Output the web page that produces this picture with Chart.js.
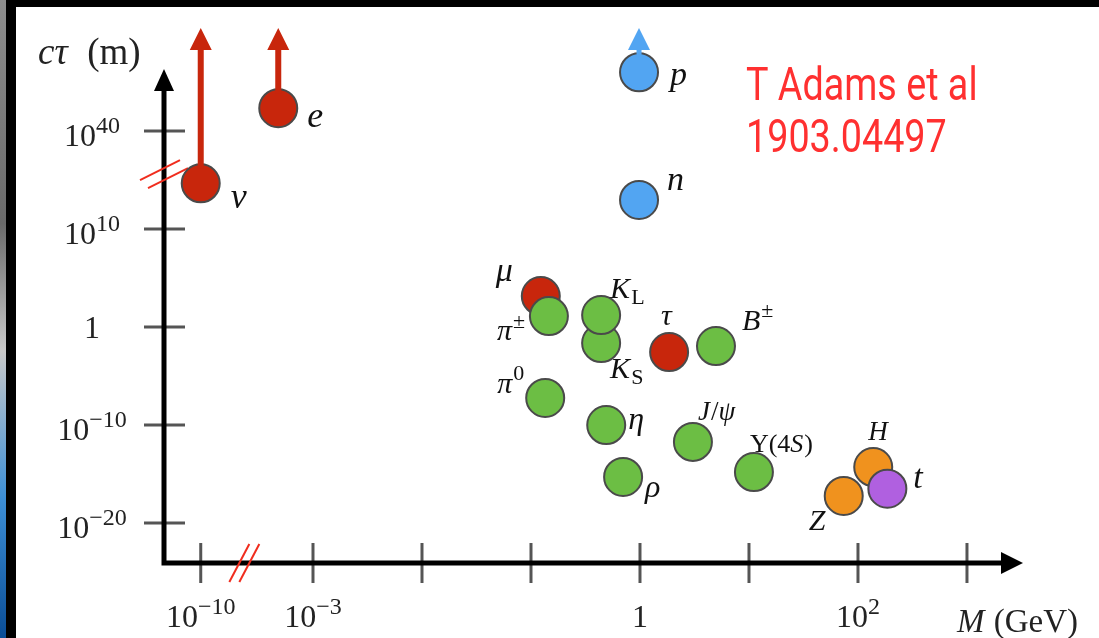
<!DOCTYPE html>
<html>
<head>
<meta charset="utf-8">
<script src="https://cdn.jsdelivr.net/npm/chart.js@4.4.1/dist/chart.umd.min.js"></script>
<style>
  html, body { margin: 0; padding: 0; background: #000; overflow: hidden; }
  #strip { position: absolute; left: 0; top: 0; width: 6px; height: 638px;
    background: linear-gradient(#8d8d8d, #6a6a6a 35%, #c9c9c9 55%, #3d8fd6 78%, #0a4d96); }
  #panel { position: absolute; left: 16px; top: 7px; width: 1083px; height: 631px; background: #fff; }
  #wrap { position: absolute; left: 0; top: 0; width: 1099px; height: 638px; }
</style>
</head>
<body>
<div id="strip"></div>
<div id="panel"></div>
<div id="wrap"><canvas id="canvas" width="1099" height="638"></canvas></div>
<script>
// particles: mass in GeV, c*tau in metres
const names   = ['ν', 'e', 'μ', 'τ', 'p', 'n', 'π±', 'K_S', 'K_L', 'B±', 'π0', 'η', 'J/ψ', 'ρ', 'Υ(4S)', 'Z', 'H', 't'];
const massGeV = [1e-10, 4.8e-4, 0.123, 1.85, 0.98, 0.98, 0.146, 0.44, 0.44, 4.98, 0.135, 0.49, 3.06, 0.70, 11.1, 74, 138, 186];
const ctauM   = [1e24, 1e47, 1.45e3, 2.8e-3, 1e58, 8e18, 13, 2.3e-2, 16.6, 1.15e-2, 5.8e-8, 1e-10, 1.9e-12, 5e-16, 1.6e-15, 5.8e-18, 5.1e-15, 3.2e-17];
const kind    = ['lepton', 'lepton', 'lepton', 'lepton', 'baryon', 'baryon', 'meson', 'meson', 'meson', 'meson', 'meson', 'meson', 'meson', 'meson', 'meson', 'boson', 'boson', 'top'];
const lowerLimit = ['ν', 'e', 'p'];

// axis ticks (powers of ten)
const xTickExp = [-10, -3, -2, -1, 0, 1, 2, 3];
const xTickLabelExp = [-10, -3, 0, 2];
const yTickExp = [-20, -10, 0, 10, 40];

const kindColor = {
    lepton: 'rgb(200, 38, 12)',
    baryon: 'rgb(82, 165, 242)',
    meson: 'rgb(108, 190, 68)',
    boson: 'rgb(240, 146, 30)',
    top: 'rgb(176, 96, 224)'
};

// label markup and placement (dx, dy to left/baseline, font size)
const labelMarkup = {
    'ν': [['ν', 'i']], 'e': [['e', 'i']], 'μ': [['μ', 'i']], 'τ': [['τ', 'i']],
    'p': [['p', 'i']], 'n': [['n', 'i']],
    'π±': [['π', 'i'], ['±', 'sup']],
    'K_S': [['K', 'i'], ['S', 'sub']],
    'K_L': [['K', 'i'], ['L', 'sub']],
    'B±': [['B', 'i'], ['±', 'sup']],
    'π0': [['π', 'i'], ['0', 'sup']],
    'η': [['η', 'i']],
    'J/ψ': [['J', 'i'], ['/', 'r'], ['ψ', 'i']],
    'ρ': [['ρ', 'i']],
    'Υ(4S)': [['Υ(4', 'r'], ['S', 'i'], [')', 'r']],
    'Z': [['Z', 'i']], 'H': [['H', 'i']], 't': [['t', 'i']]
};
const labelPlace = {
    'ν': [30, 25, 36], 'e': [29, 19, 36], 'μ': [-45, -15, 34], 'τ': [-8, -27, 30],
    'p': [31, 13, 34], 'n': [28, -10, 34],
    'π±': [-52, 24, 30], 'K_S': [9, 35, 30], 'K_L': [9, -17, 30], 'B±': [26, -16, 30],
    'π0': [-48, -5, 30], 'η': [22, 4, 32], 'J/ψ': [5, -22, 27], 'ρ': [22, 20, 32],
    'Υ(4S)': [-4, -20, 26], 'Z': [-35, 34, 30], 'H': [-5, -27, 27], 't': [26, -1, 34]
};

// broken axes: compress the far ends beyond the break marks
const X_BREAK = -3.63, Y_BREAK = 15.1;
function xs(m) {
    const L = Math.log10(m);
    return L >= X_BREAK ? L : X_BREAK + (L - X_BREAK) * (0.40 / (X_BREAK + 10));
}
function ys(c) {
    const L = Math.log10(c);
    return L <= 10 ? L : 10 + (L - 10) / 3;
}

const SERIF = '"Liberation Serif", "DejaVu Serif", serif';

function partFont(style, size) {
    if (style === 'i') return `italic ${size}px ${SERIF}`;
    if (style === 'sup' || style === 'sub') return `${Math.round(size * 0.74)}px ${SERIF}`;
    return `${size}px ${SERIF}`;
}
function richWidth(ctx, parts, size) {
    let w = 0;
    parts.forEach(p => { ctx.font = partFont(p[1], size); w += ctx.measureText(p[0]).width; });
    return w;
}
function drawRich(ctx, parts, x, y, size, align) {
    let w = richWidth(ctx, parts, size);
    let cx = align === 'center' ? x - w / 2 : align === 'right' ? x - w : x;
    ctx.textAlign = 'left';
    ctx.textBaseline = 'alphabetic';
    parts.forEach(p => {
        ctx.font = partFont(p[1], size);
        let dy = p[1] === 'sup' ? -size * 0.42 : p[1] === 'sub' ? size * 0.2 : 0;
        ctx.fillText(p[0], cx, y + dy);
        cx += ctx.measureText(p[0]).width + (p[1] === 'i' ? 1 : 0);
    });
}
function powLabel(e) {
    if (e === 0) return [['1', 'r']];
    return [['10', 'r'], [(e < 0 ? '−' : '') + Math.abs(e), 'sup']];
}

function arrowUp(ctx, x, y0, yTip, color, shaft) {
    ctx.fillStyle = color;
    ctx.fillRect(x - shaft / 2, yTip + 20, shaft, y0 - yTip - 20);
    ctx.beginPath();
    ctx.moveTo(x, yTip);
    ctx.lineTo(x - 11, yTip + 22);
    ctx.lineTo(x + 11, yTip + 22);
    ctx.closePath();
    ctx.fill();
}

const decor = {
    id: 'decor',
    beforeDatasetsDraw(chart) {
        const ctx = chart.ctx, xa = chart.scales.x, ya = chart.scales.y;
        const x0 = xa.getPixelForValue(xa.min), y0 = ya.getPixelForValue(ya.min);
        const xEnd = xa.getPixelForValue(xa.max), yEnd = ya.getPixelForValue(ya.max);
        ctx.save();
        // ticks
        ctx.strokeStyle = '#555';
        ctx.lineWidth = 3;
        yTickExp.forEach(e => {
            const py = ya.getPixelForValue(ys(Math.pow(10, e)));
            ctx.beginPath(); ctx.moveTo(x0 - 20, py); ctx.lineTo(x0 + 21, py); ctx.stroke();
        });
        xTickExp.forEach(e => {
            const px = xa.getPixelForValue(xs(Math.pow(10, e)));
            ctx.beginPath(); ctx.moveTo(px, y0 - 20); ctx.lineTo(px, y0 + 20); ctx.stroke();
        });
        // axes with arrow heads
        ctx.strokeStyle = '#000';
        ctx.fillStyle = '#000';
        ctx.lineWidth = 5;
        ctx.beginPath();
        ctx.moveTo(x0, yEnd + 18);
        ctx.lineTo(x0, y0);
        ctx.lineTo(xEnd - 18, y0);
        ctx.stroke();
        ctx.beginPath();
        ctx.moveTo(x0, yEnd); ctx.lineTo(x0 - 10, yEnd + 22); ctx.lineTo(x0 + 10, yEnd + 22); ctx.closePath(); ctx.fill();
        ctx.beginPath();
        ctx.moveTo(xEnd, y0); ctx.lineTo(xEnd - 22, y0 - 11); ctx.lineTo(xEnd - 22, y0 + 11); ctx.closePath(); ctx.fill();
        // axis breaks
        ctx.strokeStyle = 'rgb(240, 45, 30)';
        ctx.lineWidth = 2;
        const bx = xa.getPixelForValue(X_BREAK), by = ya.getPixelForValue(Y_BREAK);
        [-5, 5].forEach(d => {
            ctx.beginPath(); ctx.moveTo(bx + d - 10, y0 + 19); ctx.lineTo(bx + d + 10, y0 - 19); ctx.stroke();
            ctx.beginPath(); ctx.moveTo(x0 - 20 + d * 0.8, by + 5 + d * 0.8); ctx.lineTo(x0 + 20 + d * 0.8, by - 15 + d * 0.8); ctx.stroke();
        });
        ctx.restore();
    },
    afterDatasetsDraw(chart) {
        const ctx = chart.ctx, xa = chart.scales.x, ya = chart.scales.y;
        const y0 = ya.getPixelForValue(ya.min);
        ctx.save();
        // lower limits
        names.forEach((nm, i) => {
            if (!lowerLimit.includes(nm)) return;
            const px = xa.getPixelForValue(xs(massGeV[i])), py = ya.getPixelForValue(ys(ctauM[i]));
            arrowUp(ctx, px, py - 15, 28, kindColor[kind[i]], kind[i] === 'baryon' ? 5 : 6);
        });
        // particle labels
        ctx.fillStyle = '#111';
        names.forEach((nm, i) => {
            const px = xa.getPixelForValue(xs(massGeV[i])), py = ya.getPixelForValue(ys(ctauM[i]));
            const pl = labelPlace[nm];
            drawRich(ctx, labelMarkup[nm], px + pl[0], py + pl[1], pl[2], 'left');
        });
        // tick labels
        ctx.fillStyle = '#222';
        yTickExp.forEach(e => {
            const py = ya.getPixelForValue(ys(Math.pow(10, e)));
            drawRich(ctx, powLabel(e), 92, py + (e === 0 ? 11 : 15), 32, 'center');
        });
        xTickLabelExp.forEach(e => {
            const px = xa.getPixelForValue(xs(Math.pow(10, e)));
            drawRich(ctx, powLabel(e), px, y0 + 64, 32, 'center');
        });
        // axis titles
        drawRich(ctx, [['cτ', 'i'], ['  (m)', 'r']], 38, 64, 37, 'left');
        drawRich(ctx, [['M', 'i'], [' (GeV)', 'r']], 957, 632, 33, 'left');
        // source note, condensed
        ctx.fillStyle = 'rgb(255, 48, 48)';
        ctx.font = '46px Roboto, "Liberation Sans", sans-serif';
        ctx.textAlign = 'left';
        ctx.translate(746, 0);
        ctx.scale(0.82, 1);
        ctx.fillText('T Adams et al', 0, 100);
        ctx.fillText('1903.04497', 0, 152);
        ctx.restore();
    }
};

// first dataset is drawn on top, so list them bottom-last
const groups = ['top', 'boson', 'meson', 'baryon', 'lepton'];
const datasets = groups.map(g => ({
    label: g,
    data: names.map((nm, i) => ({ x: xs(massGeV[i]), y: ys(ctauM[i]), k: kind[i] })).filter(p => p.k === g),
    backgroundColor: kindColor[g],
    borderColor: '#4a4a4a',
    borderWidth: 2,
    pointRadius: 19,
    pointHoverRadius: 19,
    clip: false
}));

const ctx = document.getElementById('canvas').getContext('2d');
window.myChart = new Chart(ctx, {
    type: 'scatter',
    data: { datasets: datasets },
    options: {
        responsive: false,
        animation: false,
        events: [],
        layout: { padding: { left: 164, right: 76, top: 69, bottom: 75 } },
        scales: {
            x: { type: 'linear', min: -4.367, max: 3.514, display: false },
            y: { type: 'linear', min: -24.08, max: 26.33, display: false }
        },
        plugins: {
            legend: { display: false },
            tooltip: { enabled: false }
        }
    },
    plugins: [decor]
});
</script>
</body>
</html>
